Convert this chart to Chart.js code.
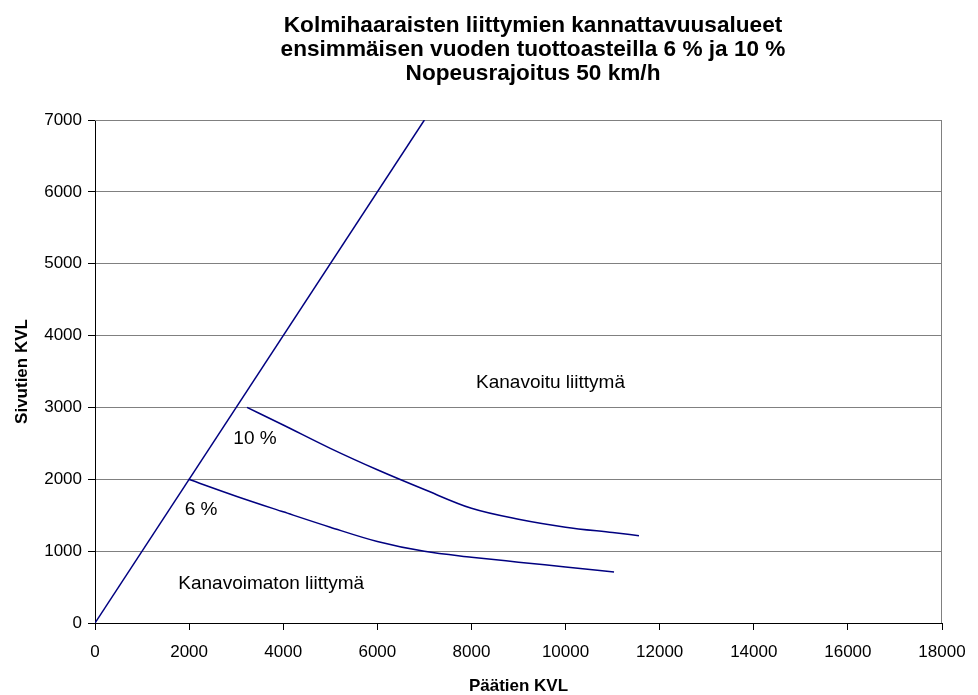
<!DOCTYPE html>
<html>
<head>
<meta charset="utf-8">
<script src="https://cdn.jsdelivr.net/npm/chart.js@4.4.1/dist/chart.umd.min.js"></script>
<style>
  html, body { margin: 0; padding: 0; background: #fff; }
  #wrap { width: 978px; height: 695px; }
</style>
</head>
<body>
<div id="wrap"><canvas id="kvlChart" width="978" height="695"></canvas></div>
<script>
const titleLines = [
  'Kolmihaaraisten liittymien kannattavuusalueet',
  'ensimmäisen vuoden tuottoasteilla 6 % ja 10 %',
  'Nopeusrajoitus 50 km/h'
];
const xTitle = 'Päätien KVL';
const yTitle = 'Sivutien KVL';

// rajaviiva (Päätien KVL = Sivutien KVL)
const diagX = [0, 7000];
const diagY = [0, 7000];

// 10 % tuottoaste
const p10X = [3230, 4000, 5000, 6000, 7000, 8000, 9000, 10000, 11000, 11560];
const p10Y = [3000, 2755, 2430, 2132, 1857, 1596, 1444, 1334, 1258, 1215];

// 6 % tuottoaste
const p6X = [1990, 3000, 4000, 5000, 6000, 7000, 8000, 9000, 10000, 11030];
const p6Y = [2000, 1765, 1547, 1333, 1134, 997, 916, 847, 780, 710];

const xTicks = [0, 2000, 4000, 6000, 8000, 10000, 12000, 14000, 16000, 18000];
const yTicks = [0, 1000, 2000, 3000, 4000, 5000, 6000, 7000];

// tekstit kuvaajan sisällä, data-koordinaateissa
const notes = [
  { text: 'Kanavoitu liittymä',    x: 9680, y: 3340 },
  { text: '10 %',                  x: 3400, y: 2560 },
  { text: '6 %',                   x: 2255, y: 1577 },
  { text: 'Kanavoimaton liittymä', x: 3745, y: 543 }
];

const FONT = "'Liberation Sans', Arial, sans-serif";
const NAVY = '#000080';

function pts(xs, ys) {
  return xs.map((x, i) => ({ x: x, y: ys[i] }));
}

const frameAndText = {
  id: 'frameAndText',
  beforeDatasetsDraw(chart) {
    const { ctx, chartArea: a } = chart;
    ctx.save();
    ctx.strokeStyle = '#808080';
    ctx.lineWidth = 1;
    ctx.beginPath();
    ctx.moveTo(a.left, a.top + 0.5);
    ctx.lineTo(a.right - 0.5, a.top + 0.5);
    ctx.lineTo(a.right - 0.5, a.bottom);
    ctx.stroke();
    ctx.restore();
  },
  afterDraw(chart) {
    const ctx = chart.ctx;
    const xs = chart.scales.x, ys = chart.scales.y;
    ctx.save();
    ctx.fillStyle = '#000';
    ctx.textAlign = 'center';
    ctx.textBaseline = 'alphabetic';
    ctx.font = 'bold 22.6px ' + FONT;
    titleLines.forEach((t, i) => ctx.fillText(t, 533, 32 + i * 24));
    ctx.font = '19px ' + FONT;
    ctx.textBaseline = 'middle';
    notes.forEach(n => ctx.fillText(n.text, xs.getPixelForValue(n.x), ys.getPixelForValue(n.y)));
    ctx.restore();
  }
};

const lineStyle = {
  borderColor: NAVY,
  borderWidth: 1.5,
  pointRadius: 0,
  fill: false
};

new Chart(document.getElementById('kvlChart'), {
  type: 'line',
  data: {
    datasets: [
      Object.assign({ data: pts(diagX, diagY), tension: 0 }, lineStyle),
      Object.assign({ data: pts(p10X, p10Y), cubicInterpolationMode: 'monotone' }, lineStyle),
      Object.assign({ data: pts(p6X, p6Y), cubicInterpolationMode: 'monotone' }, lineStyle)
    ]
  },
  options: {
    responsive: false,
    animation: false,
    devicePixelRatio: 1,
    layout: { padding: { top: 120, right: 36, left: 0, bottom: 0 } },
    plugins: {
      legend: { display: false },
      tooltip: { enabled: false },
      title: { display: false }
    },
    scales: {
      x: {
        type: 'linear',
        min: 0, max: 18000,
        afterBuildTicks: s => { s.ticks = xTicks.map(v => ({ value: v })); },
        afterFit: s => { s.height = 72; },
        grid: { drawOnChartArea: false, drawTicks: true, tickLength: 7, color: '#000', tickColor: '#000' },
        border: { color: '#000', width: 1 },
        ticks: { color: '#000', padding: 12, maxRotation: 0, autoSkip: false, callback: v => String(v), font: { family: FONT, size: 17 } },
        title: { display: true, text: xTitle, color: '#000', padding: 0, font: { family: FONT, size: 17, weight: 'bold', lineHeight: 1 } }
      },
      y: {
        type: 'linear',
        min: 0, max: 7000,
        afterBuildTicks: s => { s.ticks = yTicks.map(v => ({ value: v })); },
        afterFit: s => { s.width = 95; },
        grid: { color: '#808080', tickLength: 7, tickColor: '#000' },
        border: { color: '#000', width: 1 },
        ticks: { color: '#000', padding: 6, autoSkip: false, callback: v => String(v), font: { family: FONT, size: 17 } },
        title: { display: true, text: yTitle, color: '#000', padding: { top: 12, bottom: 0 }, font: { family: FONT, size: 17, weight: 'bold' } }
      }
    }
  },
  plugins: [frameAndText]
});
</script>
</body>
</html>
